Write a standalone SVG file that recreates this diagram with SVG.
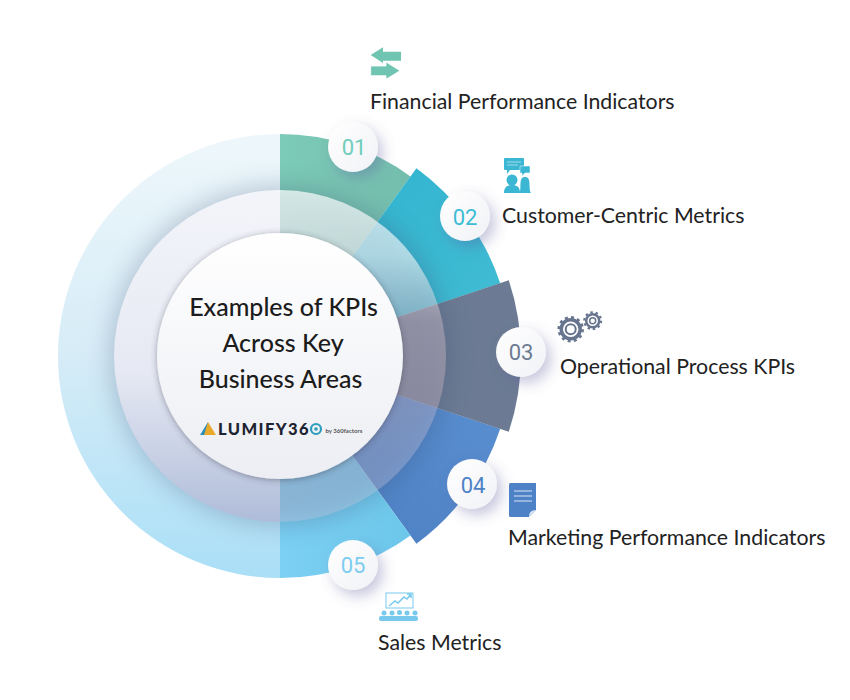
<svg xmlns="http://www.w3.org/2000/svg" width="850" height="700" viewBox="0 0 850 700">
<style>
text{font-family:"Lato","Liberation Sans",sans-serif}
.lbl{font-size:21.3px;fill:#222}
.ttl{font-size:25px;fill:#1c1c1c;font-weight:500;text-anchor:middle}
.num{font-family:"Roboto","Liberation Sans",sans-serif;font-size:22px;text-anchor:middle;font-weight:400}
.badge{fill:url(#badge);filter:url(#sh)}
</style>
<defs>
<linearGradient id="half" x1="0" y1="0" x2="0" y2="1"><stop offset="0" stop-color="#eef7fb"/><stop offset=".5" stop-color="#d6ecf7"/><stop offset="1" stop-color="#aadff7"/></linearGradient>
<linearGradient id="ringL" x1="0" y1="0" x2="0" y2="1"><stop offset="0" stop-color="#f3f5fa"/><stop offset=".55" stop-color="#e6e9f3"/><stop offset="1" stop-color="#afbcd9"/></linearGradient>
<linearGradient id="ring" x1="0" y1="0" x2="0" y2="1"><stop offset="0" stop-color="#fff" stop-opacity=".7"/><stop offset=".2" stop-color="#fff" stop-opacity=".58"/><stop offset=".4" stop-color="#f8d8dc" stop-opacity=".32"/><stop offset=".6" stop-color="#f0ccd4" stop-opacity=".3"/><stop offset=".8" stop-color="#c8c8e0" stop-opacity=".33"/><stop offset="1" stop-color="#c8c8e0" stop-opacity=".35"/></linearGradient>
<linearGradient id="core" x1="0" y1="0" x2="0" y2="1"><stop offset="0" stop-color="#fff"/><stop offset="1" stop-color="#eceef3"/></linearGradient>
<linearGradient id="badge" x1="0" y1="0" x2="1" y2="1"><stop offset="0" stop-color="#fff"/><stop offset="1" stop-color="#f1f2f6"/></linearGradient>
<linearGradient id="s1" x1="0" y1="0" x2="1" y2="0"><stop offset="0" stop-color="#7ccbb7"/><stop offset="1" stop-color="#74bdad"/></linearGradient>
<linearGradient id="s2" x1="0" y1="0" x2="1" y2="1"><stop offset="0" stop-color="#2fb3cf"/><stop offset="1" stop-color="#43bdd4"/></linearGradient>
<linearGradient id="s4" x1="1" y1="0" x2="0" y2="1"><stop offset="0" stop-color="#5b91d3"/><stop offset="1" stop-color="#4a7dc0"/></linearGradient>
<linearGradient id="s5" x1="0" y1="0" x2="1" y2="0"><stop offset="0" stop-color="#7bd0f3"/><stop offset="1" stop-color="#6cc7ea"/></linearGradient>
<filter id="sh" x="-50%" y="-50%" width="200%" height="200%"><feDropShadow dx="5" dy="6" stdDeviation="7" flood-color="#5a5a9c" flood-opacity=".35"/></filter>
<filter id="csh" x="-20%" y="-20%" width="140%" height="140%"><feDropShadow dx="0" dy="1" stdDeviation="3" flood-color="#334" flood-opacity=".45"/></filter>
<filter id="blur" x="-30%" y="-30%" width="160%" height="160%"><feGaussianBlur stdDeviation="12"/></filter>
</defs>
<g id="rings">
<path d="M280 134A222 222 0 0 0 280 578Z" fill="url(#half)"/>
<path id="seg-01" d="M280 356V134A222 222 0 0 1 410.500 176.400Z" fill="url(#s1)"/>
<path id="seg-02" d="M280 356L416.400 168.300A232 232 0 0 1 500.200 283.200Z" fill="url(#s2)"/>
<path id="seg-04" d="M280 356L500.200 428.800A232 232 0 0 1 416.400 543.700Z" fill="url(#s4)"/>
<path id="seg-05" d="M280 356L410.500 535.600A222 222 0 0 1 280 578Z" fill="url(#s5)"/>
<path id="seg-03" d="M280 356L508.800 280.300A241 241 0 0 1 508.800 431.700Z" fill="#6c7b93"/>
<circle cx="280" cy="356" r="170" fill="#3a4a70" opacity=".27" filter="url(#blur)"/>
<path d="M280 190A166 166 0 0 0 280 522Z" fill="url(#ringL)"/>
<path d="M280 190A166 166 0 0 1 280 522Z" fill="url(#ring)"/>
</g>
<g id="center">
<circle cx="280" cy="356" r="123" fill="url(#core)" filter="url(#csh)"/>
<text class="ttl" x="283.500" y="316">Examples of KPIs</text>
<text class="ttl" x="283" y="352">Across Key</text>
<text class="ttl" x="280.500" y="388">Business Areas</text>
<g id="logo">
<path d="M208 422L200 435H210Z" fill="#2b8fb8"/>
<path d="M208 422L216 435H204Z" fill="#e9a92b"/>
<text x="218" y="434.500" font-size="16.500" font-weight="900" letter-spacing="1.400" fill="#1d2330">LUMIFY36</text>
<circle cx="316" cy="429" r="5" fill="none" stroke="#2c9ebb" stroke-width="2.200"/>
<circle cx="316" cy="429" r="1.800" fill="#2c9ebb"/>
<text x="325.500" y="432.500" font-size="6" font-weight="700" fill="#555">by 360factors</text>
</g>
</g>
<g id="node-01">
<circle class="badge" cx="353" cy="147" r="25"/>
<text class="num" x="354" y="154.500" fill="#6ecdbb">01</text>
<path d="M370.700 55L383 47.300V51.700H401V60.700H383V63Z" fill="#6fc4b2"/>
<path d="M370.700 66H386V62L400 70.700L386 79.300V75.700H370.700Z" fill="#6fc4b2" stroke="#fff" stroke-width=".8"/>
<text class="lbl" x="370" y="109">Financial Performance Indicators</text>
</g>
<g id="node-02">
<circle class="badge" cx="465" cy="216" r="25"/>
<text class="num" x="465" y="225" fill="#3cbcd6">02</text>
<path d="M505 158H523A1 1 0 0 1 524 159V169A1 1 0 0 1 523 170H510L507 174V170H505A1 1 0 0 1 504 169V159A1 1 0 0 1 505 158Z" fill="#3bb6d3"/>
<path d="M507 162H521M507 165H518" stroke="#bfe6ef" stroke-width=".8"/>
<path d="M520 166H530V173H525L522 176V173H520Z" fill="#3bb6d3" stroke="#fff" stroke-width=".5"/>
<circle cx="512" cy="180" r="5.500" fill="#3bb6d3"/>
<path d="M504 193C504 187 507 185 512 185C517 185 520 187 520 193Z" fill="#3bb6d3"/>
<path d="M519.500 193C522 188 518 177 525 177C532 177 528 188 531 193Z" fill="#3bb6d3"/>
<text class="lbl" x="502" y="223">Customer-Centric Metrics</text>
</g>
<g id="node-03">
<circle class="badge" cx="521" cy="352" r="25"/>
<text class="num" x="521" y="359.500" fill="#6c7b93">03</text>
<g fill="none" stroke="#66748e">
<circle cx="570.700" cy="329.300" r="9.500" stroke-width="3.500"/>
<circle cx="570.700" cy="329.300" r="5" stroke-width="2"/>
<circle cx="570.700" cy="329.300" r="12" stroke-width="2.500" stroke-dasharray="3 3.280"/>
<circle cx="592.700" cy="320.700" r="6.500" stroke-width="2.500"/>
<circle cx="592.700" cy="320.700" r="3" stroke-width="1.500"/>
<circle cx="592.700" cy="320.700" r="8.500" stroke-width="2" stroke-dasharray="2.500 2.840"/>
</g>
<text class="lbl" x="560" y="374">Operational Process KPIs</text>
</g>
<g id="node-04">
<circle class="badge" cx="472" cy="484" r="25"/>
<text class="num" x="473" y="492.500" fill="#4e82c6">04</text>
<path d="M510.500 483H536V510L529 517H510.500A1.500 1.500 0 0 1 509 515.500V484.500A1.500 1.500 0 0 1 510.500 483Z" fill="#4e82c6"/>
<path d="M514 491H532M514 496H532M514 501H532" stroke="#dbe6f4" stroke-width="1.200"/>
<path d="M529 517C529 513 531 510 536 510Z" fill="#dbe6f4"/>
<text class="lbl" x="508" y="545">Marketing Performance Indicators</text>
</g>
<g id="node-05">
<circle class="badge" cx="353" cy="565" r="25"/>
<text class="num" x="353" y="573" fill="#7ccdf0">05</text>
<rect x="386" y="593" width="27" height="15" fill="none" stroke="#78c9ee" stroke-width="1"/>
<path d="M389 606L395 601L398 603L404 597L407 599L411 594M407 594H411V598" fill="none" stroke="#78c9ee" stroke-width="1.500"/>
<g fill="#78c9ee"><circle cx="384" cy="613" r="2.500"/><circle cx="392" cy="613" r="2.500"/><circle cx="399.500" cy="612.500" r="2.500"/><circle cx="407" cy="613" r="2.500"/><circle cx="415" cy="613" r="2.500"/>
<rect x="379" y="616" width="39" height="5" rx="2"/></g>
<text class="lbl" x="378" y="650">Sales Metrics</text>
</g>
</svg>
